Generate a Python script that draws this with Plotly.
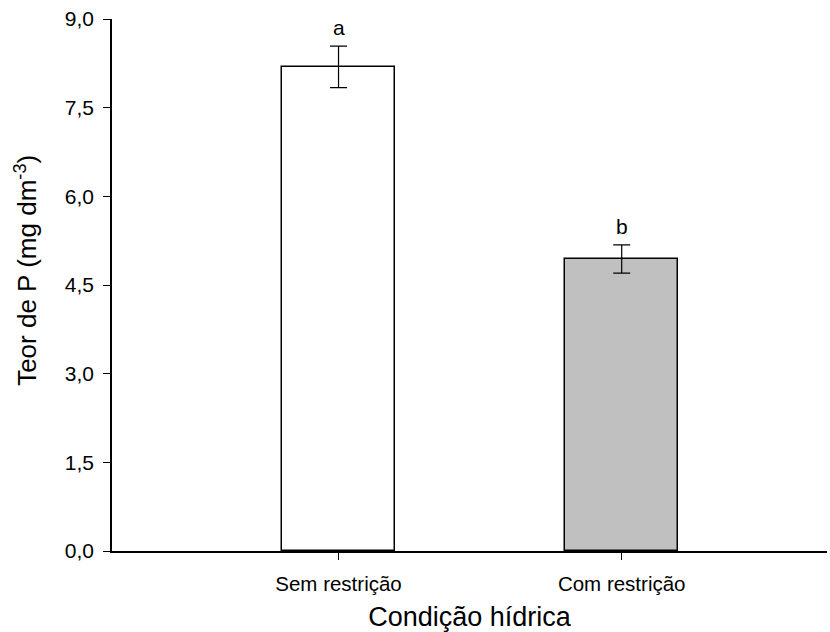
import plotly.graph_objects as go

categories = ["Sem restrição", "Com restrição"]
values = [8.19, 4.94]
errors = [0.35, 0.24]
letters = ["a", "b"]
colors = ["#ffffff", "#c0c0c0"]
y_ticks = [0, 1.5, 3.0, 4.5, 6.0, 7.5, 9.0]
y_ticklabels = ["0,0", "1,5", "3,0", "4,5", "6,0", "7,5", "9,0"]

xpos = list(range(len(categories)))

fig = go.Figure()
fig.add_trace(go.Bar(
    x=xpos, y=values, width=0.4,
    marker=dict(color=colors, line=dict(color="black", width=1.5)),
    error_y=dict(type="data", array=errors, visible=True, color="black", thickness=1.2, width=8.5),
    showlegend=False,
))

for x, v, e, l in zip(xpos, values, errors, letters):
    fig.add_annotation(x=x, y=v + e, text=l, showarrow=False, yanchor="bottom", yshift=5,
                       font=dict(size=21, color="black", family="Liberation Sans, Arial"))

# y-axis title as rotated annotation
fig.add_annotation(x=-0.12, y=0.527, xref="paper", yref="paper", xanchor="center", yanchor="middle",
                   text="Teor de P (mg dm<sup>-3</sup>)", textangle=-90, showarrow=False,
                   font=dict(size=26, color="black", family="Liberation Sans, Arial"))

fig.update_layout(
    width=830, height=632,
    margin=dict(l=112, r=3, t=19, b=81),
    paper_bgcolor="white", plot_bgcolor="white",
    font=dict(family="Liberation Sans, Arial", color="black"),
    bargap=0,
)
fig.update_xaxes(
    range=[-0.8, 1.725], tickvals=xpos, ticktext=categories,
    showline=True, linecolor="black", linewidth=2,
    ticks="outside", ticklen=7, tickcolor="black", tickwidth=1.2,
    showgrid=False, zeroline=False,
    tickfont=dict(size=20.5), ticklabelstandoff=6,
    title=dict(text="Condição hídrica", font=dict(size=27), standoff=17),
)
fig.update_yaxes(
    range=[0, 9], tickvals=y_ticks, ticktext=y_ticklabels,
    showline=True, linecolor="black", linewidth=1.5,
    ticks="outside", ticklen=7, tickcolor="black", tickwidth=1.2,
    showgrid=False, zeroline=False,
    tickfont=dict(size=21), ticklabelstandoff=5,
)

fig.write_html("out.html")
